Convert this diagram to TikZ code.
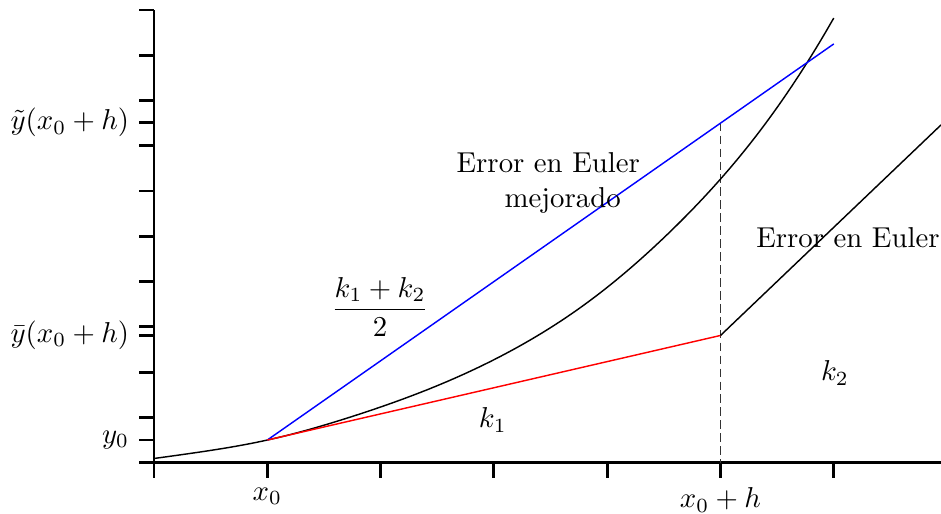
\documentclass[tikz,border=0pt]{standalone}
\usepackage{amsmath}
\usepackage{amssymb}
\usepackage{tikz}

\begin{document}
\begin{tikzpicture}[x=1.3845cm, y=0.5532cm]
    \useasboundingbox (-1.359,-1.133) rectangle (6.946,10.22);
    % Ejes
    \draw[line width=1pt] (-0.13,0) -- (6.946,0);
    \draw[line width=1pt] (0,-0.33) -- (0,10);
    % Marcas de los ejes
    \foreach \y in {1,...,10, 0.5, 2.81, 7.51}
        \draw[line width=1pt] (-0.13,\y) -- (0,\y);
    \foreach \x in {1,...,6}
        \draw[line width=1pt] (\x,0) -- (\x,-0.33);
    % Etiquetas de los ejes
    \node[left] (ytil) at (-0.13,7.51) {$\tilde{y}(x_0+h)$};
    \node[left] (ybar) at (-0.13,2.81) {$\bar{y}(x_0+h)$};
    \node[left] (yini) at (-0.13,0.5) {$y_0$};
    \node[below] (xini) at (1,-0.33) {$x_0$};
    \node[below] (xfin) at (5,-0.33) {$x_0+h$};
    % Puntos
    \coordinate (P0) at (1,0.5);
    \coordinate (Pbar) at (5,2.81);
    \coordinate (Ptil) at (5,7.51);
    \coordinate (Pend) at (6,9.25);
    \coordinate (Qend) at (6.946,7.46);
    \coordinate (Xh) at (5,0);
    % Recta vertical en x0+h
    \draw[line width=0.6pt, dash pattern=on 3pt off 1.5pt, black!80] (Ptil) -- (Xh);
    % Solucion exacta
    \draw[line width=0.5pt, domain=0:6, samples=80, smooth]
        plot (\x, {0.879*exp(0.415*\x) - 0.779 - 0.052*exp(-2*(\x-1)^2) + 0.06*exp(-2*(\x-4.6)^2)});
    % Pendientes
    \draw[line width=0.5pt, blue] (P0) -- (Pend);
    \draw[line width=0.5pt, red] (P0) -- (Pbar);
    \draw[line width=0.5pt] (Pbar) -- (Qend);
    % Textos
    \node[align=center] (errmej) at (3.48,6.18) {Error en Euler\\ \hspace*{1em}mejorado};
    \node (erreul) at (6.125,4.96) {Error en Euler};
    \node (kuno) at (2.99,0.94) {$k_1$};
    \node (kdos) at (6.01,1.98) {$k_2$};
    \node (kmed) at (1.995,3.44) {$\dfrac{k_1+k_2}{2}$};
\end{tikzpicture}
\end{document}
